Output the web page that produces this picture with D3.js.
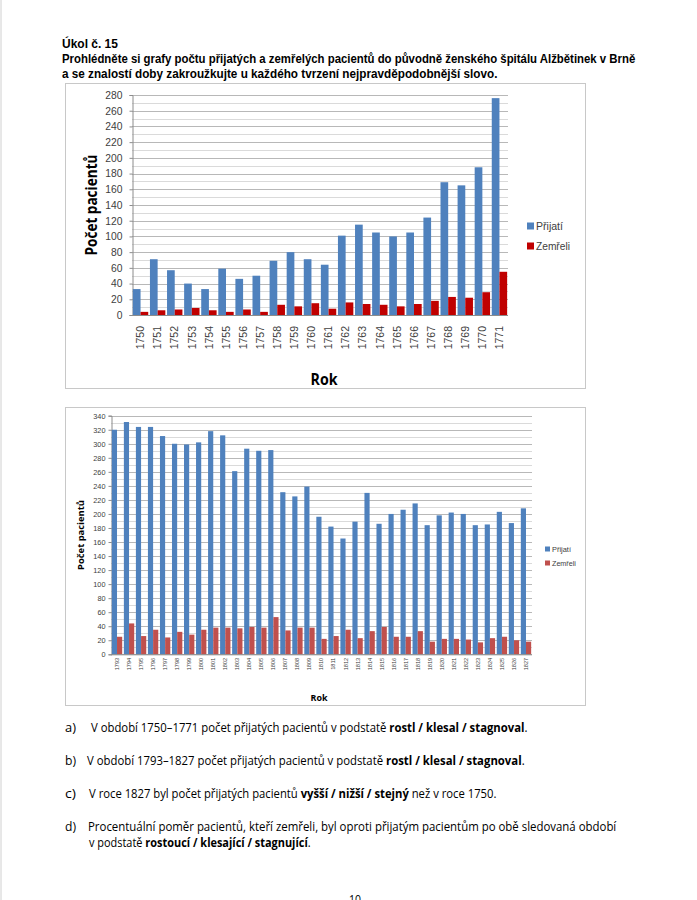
<!DOCTYPE html>
<html><head><meta charset="utf-8">
<script src="https://cdn.jsdelivr.net/npm/d3@7"></script>
<style>body{margin:0;background:#fff} svg{display:block}</style>
</head><body><svg id="c" width="697" height="900"></svg>
<script>
// ---------- DATA ----------
const years1 = ["1750","1751","1752","1753","1754","1755","1756","1757","1758","1759","1760","1761","1762","1763","1764","1765","1766","1767","1768","1769","1770","1771"];
const prijati1 = [33,71,57,40,33,59,46,50,69,80,71,64,101,115,105,100,105,124,169,165,188,276];
const zemreli1 = [4,6,7,9,6,4,7,4,13,11,15,8,16,14,13,11,14,18,23,22,29,55];
const yTicks1 = [0,20,40,60,80,100,120,140,160,180,200,220,240,260,280];

const years2 = ["1793","1794","1795","1796","1797","1798","1799","1800","1801","1802","1803","1804","1805","1806","1807","1808","1809","1810","1811","1812","1813","1814","1815","1816","1817","1818","1819","1820","1821","1822","1823","1824","1825","1826","1827"];
const prijati2 = [320,331,324,324,311,300,299,302,318,312,261,293,290,291,231,225,239,196,182,165,189,230,186,200,206,215,184,198,202,200,184,185,203,187,208];
const zemreli2 = [25,44,26,35,24,32,28,35,38,38,37,39,38,53,34,38,38,22,26,35,23,33,39,25,25,33,18,22,22,21,17,23,25,20,18];
const yTicks2 = [0,20,40,60,80,100,120,140,160,180,200,220,240,260,280,300,320,340];

const seriesNames = ["Přijatí","Zemřeli"];
const axisTitleY = "Počet pacientů";
const axisTitleX = "Rok";

const svg = d3.select("#c");
const FONT = "'Liberation Sans', Arial, sans-serif";
const TFONT = "'Open Sans', 'Noto Sans', sans-serif";

// page edge
svg.append("line").attr("x1",1).attr("x2",1).attr("y1",0).attr("y2",900).attr("stroke","#d0d0d0");

// squeeze a text horizontally (Calibri-like narrow look) to a target width
function fitW(t, x, y, len, rot) {
  const w = t.node().getComputedTextLength();
  const s = len && w > 0 ? len / w : 1;
  t.attr("x",0).attr("y",0)
   .attr("transform",`translate(${x},${y})${rot ? " rotate(" + rot + ")" : ""} scale(${s},1)`);
  return t;
}
function txt(x, y, parts, len, size, bold, fam) {
  const t = svg.append("text")
    .attr("font-family",fam || TFONT).attr("font-size",size).attr("fill","#000");
  if (bold) t.attr("font-weight","bold");
  parts.forEach(p => {
    const s = t.append("tspan").text(p[0]);
    if (p[1]) s.attr("font-weight","bold");
  });
  return fitW(t, x, y, len);
}
txt(62, 48, [["Úkol č. 15"]], 56, 12, true, FONT);
txt(62, 63, [["Prohlédněte si grafy počtu přijatých a zemřelých pacientů do původně ženského špitálu Alžbětinek v Brně"]], 574, 12, true, FONT);
txt(62, 78, [["a se znalostí doby zakroužkujte u každého tvrzení nejpravděpodobnější slovo."]], 436, 12, true, FONT);

// ---------- chart function ----------
function chart(o) {
  const g = svg.append("g");
  g.append("rect").attr("x",o.box[0]+0.5).attr("y",o.box[1]+0.5)
    .attr("width",o.box[2]-o.box[0]).attr("height",o.box[3]-o.box[1])
    .attr("fill","#fff").attr("stroke","#c8c8c8");
  const y = d3.scaleLinear().domain([0,o.ymax]).range([o.py1,o.py0]);
  const x = d3.scaleBand().domain(o.cats).range([o.px0,o.px1]).paddingInner(o.pad).paddingOuter(o.pad/2);
  const xs = d3.scaleBand().domain([0,1]).range([0,x.bandwidth()]);
  // grid
  const minor = d3.range(0,o.ymax+1,10);
  g.append("g").selectAll("line").data(minor).join("line")
    .attr("x1",o.px0).attr("x2",o.px1)
    .attr("y1",d=>Math.round(y(d))+0.5).attr("y2",d=>Math.round(y(d))+0.5)
    .attr("stroke",d=> d%20===0 ? "#b8b8b8" : "#dadada").attr("stroke-width",1);
  // y axis
  const ya = d3.axisLeft(y).tickValues(o.ticks).tickSize(o.tsz).tickPadding(o.tpad);
  const yg = g.append("g").attr("transform",`translate(${o.px0+0.5},0)`).call(ya);
  yg.select(".domain").attr("stroke","#8c8c8c");
  yg.selectAll(".tick line").attr("stroke","#8c8c8c");
  yg.selectAll("text").attr("font-family",FONT).attr("font-size",o.tfs).attr("fill","#404040");
  // bars
  const series = [o.s1, o.s2];
  series.forEach((vals, si) => {
    g.append("g").selectAll("rect").data(vals).join("rect")
      .attr("x",(d,i)=>x(o.cats[i])+xs(si))
      .attr("width",xs.bandwidth())
      .attr("y",d=>y(d)).attr("height",d=>y(0)-y(d))
      .attr("fill",o.colors[si]);
  });
  // x baseline
  g.append("line").attr("x1",o.px0).attr("x2",o.px1).attr("y1",o.py1+0.5).attr("y2",o.py1+0.5).attr("stroke","#8c8c8c");
  // category labels
  g.append("g").selectAll("text").data(o.cats).join("text")
    .attr("transform",d=>`translate(${x(d)+x.bandwidth()/2},${o.py1+o.lblOff}) rotate(-90)`)
    .attr("text-anchor","end").attr("dy","0.35em")
    .attr("font-family",FONT).attr("font-size",o.cfs).attr("fill","#404040").text(d=>d);
  // axis titles
  const yt = g.append("text").attr("text-anchor","middle").attr("font-family",TFONT).attr("font-weight","bold")
    .attr("font-size",o.titfs).text(axisTitleY);
  fitW(yt, o.ytx, (o.py0+o.py1)/2, o.ytLen, -90);
  const xt = g.append("text").attr("text-anchor","middle")
    .attr("font-family",TFONT).attr("font-weight","bold").attr("font-size",o.titfs).text(axisTitleX);
  fitW(xt, o.xtx, o.xty, o.xtLen);
  // legend
  seriesNames.forEach((n,i)=>{
    const ly = o.leg[1] + i*o.legStep;
    g.append("rect").attr("x",o.leg[0]).attr("y",ly-o.sq/2).attr("width",o.sq).attr("height",o.sq).attr("fill",o.colors[i]);
    const lt = g.append("text").attr("dy","0.35em")
      .attr("font-family",FONT).attr("font-size",o.lfs).attr("fill","#404040").text(n);
    fitW(lt, o.leg[0]+o.sq+2, ly, o.legLen[i]);
  });
}

chart({box:[65,83,585,388], px0:132, px1:508, py0:95, py1:315, ymax:280, ticks:yTicks1,
  cats:years1, s1:prijati1, s2:zemreli1, colors:["#4f81bd","#c00000"], pad:0.1,
  tsz:3, tpad:7, tfs:10.3, cfs:10.5, lblOff:11, titfs:16, ytx:97, ytLen:101, xtx:324, xty:385, xtLen:27,
  leg:[527,226], legStep:20, sq:7, lfs:11, legLen:[27,34]});

chart({box:[65,407,585,705], px0:111, px1:532, py0:415.7, py1:654.3, ymax:340, ticks:yTicks2,
  cats:years2, s1:prijati2, s2:zemreli2, colors:["#4f81bd","#c0504d"], pad:0.14,
  tsz:3, tpad:3, tfs:7.3, cfs:5.6, lblOff:3.5, titfs:8.5, ytx:84, ytLen:70, xtx:319, xty:701, xtLen:17,
  leg:[545,549], legStep:14, sq:5, lfs:7.5, legLen:[19,24]});

// ---------- questions ----------
const items = [
  {lab:"a)", y:732, x:91, len:437, parts:[["V období 1750–1771 počet přijatých pacientů v podstatě "],["rostl / klesal / stagnoval",1],["."]]},
  {lab:"b)", y:765, x:87, len:438, parts:[["V období 1793–1827 počet přijatých pacientů v podstatě "],["rostl / klesal / stagnoval",1],["."]]},
  {lab:"c)", y:798, x:89, len:408, parts:[["V roce 1827 byl počet přijatých pacientů "],["vyšší / nižší / stejný",1],[" než v roce 1750."]]},
  {lab:"d)", y:831, x:88, len:529, parts:[["Procentuální poměr pacientů, kteří zemřeli, byl oproti přijatým pacientům po obě sledovaná období"]]},
];
items.forEach(it=>{
  txt(65, it.y, [[it.lab]], 11, 12, false);
  txt(it.x, it.y, it.parts, it.len, 12, false);
});
txt(89, 847, [["v podstatě "],["rostoucí / klesající / stagnující",1],["."]], 222, 12, false);
txt(349, 904, [["10"]], 12, 12, false);
</script></body></html>
